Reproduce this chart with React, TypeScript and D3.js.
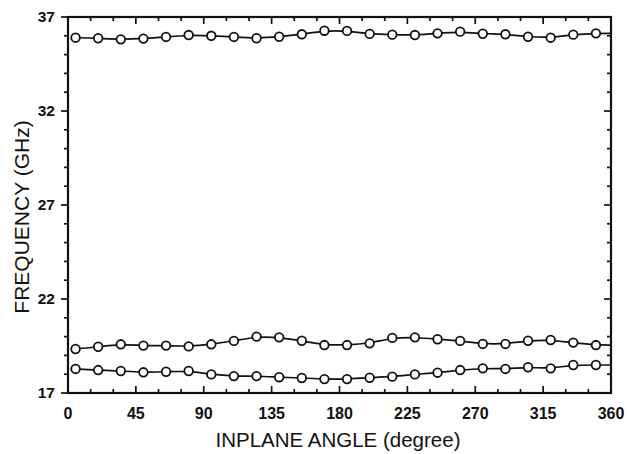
import * as d3 from 'd3';
import React, { useRef, useEffect } from 'react';

const angles = [5, 20, 35, 50, 65, 80, 95, 110, 125, 140, 155, 170, 185, 200, 215, 230, 245, 260, 275, 290, 305, 320, 335, 350];

const upperMode = [35.90, 35.87, 35.81, 35.85, 35.94, 36.04, 36.00, 35.94, 35.87, 35.95, 36.08, 36.27,
    36.26, 36.10, 36.06, 36.04, 36.13, 36.22, 36.11, 36.08, 35.95, 35.90, 36.06, 36.13];

const middleMode = [19.34, 19.46, 19.59, 19.52, 19.52, 19.48, 19.59, 19.77, 20.00, 19.96, 19.78, 19.55,
    19.55, 19.64, 19.93, 19.96, 19.86, 19.77, 19.61, 19.61, 19.78, 19.82, 19.68, 19.55];

const lowerMode = [18.28, 18.22, 18.17, 18.10, 18.13, 18.17, 17.99, 17.90, 17.90, 17.84, 17.80, 17.74,
    17.74, 17.81, 17.87, 17.99, 18.08, 18.22, 18.31, 18.28, 18.37, 18.31, 18.49, 18.49];

const xTicks = [0, 45, 90, 135, 180, 225, 270, 315, 360];
const yTicks = [17, 22, 27, 32, 37];

const W = 628, H = 454;
const left = 68, right = 611, top = 17, bottom = 393;

function App() {
    const ref = useRef(null);

    useEffect(() => {
        const svg = d3.select(ref.current);
        svg.selectAll("*").remove();

        const x = d3.scaleLinear().domain([0, 360]).range([left, right]);
        const y = d3.scaleLinear().domain([17, 37]).range([bottom, top]);

        const font = "'Liberation Sans', Arial, sans-serif";

        // minor + major ticks
        const minorX = d3.range(0, 361, 15);
        const minorY = d3.range(17, 38, 1);

        const g = svg.append("g").attr("stroke", "#111").attr("stroke-width", 1.7);

        // bottom/top: inward
        minorX.forEach(v => {
            const len = v % 45 === 0 ? 7 : 4;
            g.append("line").attr("x1", x(v)).attr("x2", x(v)).attr("y1", bottom).attr("y2", bottom - len);
            g.append("line").attr("x1", x(v)).attr("x2", x(v)).attr("y1", top).attr("y2", top + len);
        });
        // left: outward, right: inward
        minorY.forEach(v => {
            const len = (v - 17) % 5 === 0 ? 7 : 4;
            g.append("line").attr("x1", left).attr("x2", left - len).attr("y1", y(v)).attr("y2", y(v));
            g.append("line").attr("x1", right).attr("x2", right - len).attr("y1", y(v)).attr("y2", y(v));
        });

        // frame
        svg.append("rect")
            .attr("x", left).attr("y", top)
            .attr("width", right - left).attr("height", bottom - top)
            .attr("fill", "none").attr("stroke", "#111").attr("stroke-width", 2.2);

        // tick labels
        svg.selectAll(".xl").data(xTicks).enter().append("text")
            .attr("x", d => x(d)).attr("y", 419)
            .attr("text-anchor", "middle")
            .attr("font-family", font).attr("font-weight", "bold").attr("font-size", 16)
            .attr("fill", "#111")
            .text(d => d);

        svg.selectAll(".yl").data(yTicks).enter().append("text")
            .attr("x", 55).attr("y", d => y(d) + 5)
            .attr("text-anchor", "end")
            .attr("font-family", font).attr("font-weight", "bold").attr("font-size", 15.5)
            .attr("fill", "#111")
            .text(d => d);

        // axis titles
        svg.append("text")
            .attr("x", 338).attr("y", 447)
            .attr("text-anchor", "middle")
            .attr("font-family", font).attr("font-size", 20.5)
            .attr("fill", "#111")
            .text("INPLANE ANGLE (degree)");

        svg.append("text")
            .attr("transform", `translate(29,${(122 + 312) / 2}) rotate(-90)`)
            .attr("text-anchor", "middle")
            .attr("font-family", font).attr("font-size", 21)
            .attr("fill", "#111")
            .text("FREQUENCY (GHz)");

        const line = d3.line()
            .x(d => x(d[0]))
            .y(d => y(d[1]))
            .curve(d3.curveBasis);

        [upperMode, middleMode, lowerMode].forEach(series => {
            const pts = angles.map((a, i) => [a, series[i]]);
            // fitted line runs out to the frame at both ends
            const ext = [[2, series[0]], ...pts, [360, series[series.length - 1]]];
            svg.append("path")
                .attr("d", line(ext))
                .attr("fill", "none")
                .attr("stroke", "#111")
                .attr("stroke-width", 1.7);

            svg.selectAll(null).data(pts).enter().append("circle")
                .attr("cx", d => x(d[0]))
                .attr("cy", d => y(d[1]))
                .attr("r", 4.3)
                .attr("fill", "#fff")
                .attr("stroke", "#111")
                .attr("stroke-width", 1.8);
        });
    }, []);

    return (
        <div style={{ position: "absolute", left: 0, top: 0 }}>
            <svg ref={ref} width={W} height={H} style={{ display: "block", background: "#fff" }}></svg>
        </div>
    );
}

export default App;
